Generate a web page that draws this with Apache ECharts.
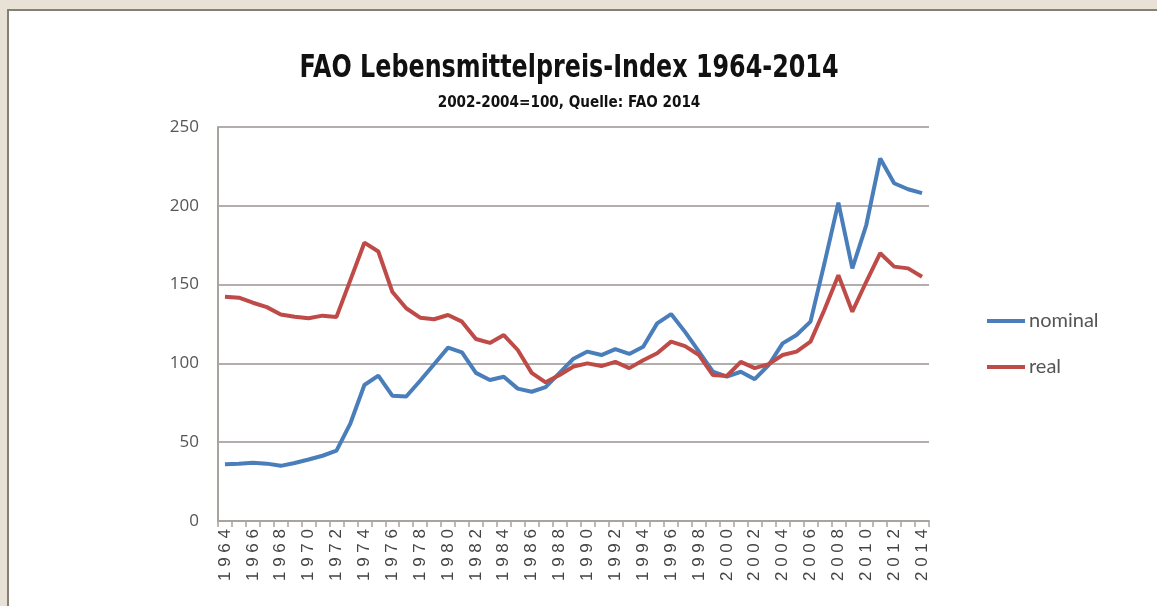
<!DOCTYPE html>
<html>
<head>
<meta charset="utf-8">
<script src="https://cdn.jsdelivr.net/npm/echarts@6/dist/echarts.min.js"></script>
<style>
  html, body { margin: 0; padding: 0; }
  body { width: 1157px; height: 606px; background: #e8e2d6; overflow: hidden; }
  .panel {
    position: absolute; left: 7px; top: 9px; width: 1150px; height: 597px;
    background: #fff; border-left: 2px solid #857f76; border-top: 2px solid #857f76;
  }
  #chart { position: absolute; left: -9px; top: -11px; width: 1157px; height: 606px; }
</style>
</head>
<body>
<div class="panel"><div id="chart"></div></div>
<script>
// years on the x axis
const years = [];
for (let y = 1964; y <= 2014; y++) years.push(String(y));

// FAO food price index, nominal (2002-2004 = 100)
const nominal = [
  36, 36.4, 37, 36.4, 35, 36.8, 39, 41.4, 44.6, 62,
  86.3, 92.2, 79.5, 79, 89, 99.5, 110, 107, 94, 89.5,
  91.5, 84, 82, 85, 94, 103, 107.5, 105.3, 109, 106,
  110.6, 125.4, 131.3, 120, 107.5, 94.7, 91.6, 94.7, 90, 99,
  112.7, 118, 126.5, 163.5, 202, 160.3, 187.8, 230, 214.3, 210.5,
  208
];

// FAO food price index, real (deflated)
const real = [
  142.3, 141.7, 138.5, 135.7, 131, 129.6, 128.7, 130.3, 129.5, 153,
  176.6, 171, 145.5, 135, 129, 128, 130.7, 126.5, 115.5, 113,
  118, 108.5, 94, 88, 92.6, 98, 100, 98.3, 101, 97,
  102, 106.4, 113.8, 111, 105.3, 92.6, 92, 101, 97, 99.5,
  105.3, 107.5, 113.8, 134, 156, 132.8, 151.8, 169.9, 161.4, 160.3,
  155
];

const yTicks = [0, 50, 100, 150, 200, 250];

const titleText = "FAO Lebensmittelpreis-Index 1964-2014";
const subText = "2002-2004=100, Quelle: FAO 2014";

const chart = echarts.init(document.getElementById("chart"), null, { renderer: "canvas" });

const option = {
  backgroundColor: "transparent",
  animation: false,
  // condensed headline look: bold text squeezed horizontally
  graphic: [
    {
      type: "text",
      x: 569,
      y: 69,
      scaleX: 0.745,
      style: {
        text: titleText,
        align: "center",
        verticalAlign: "middle",
        fontFamily: "DejaVu Sans",
        fontWeight: "bold",
        fontSize: 32,
        fill: "#111",
      },
    },
    {
      type: "text",
      x: 569,
      y: 103,
      scaleX: 0.85,
      style: {
        text: subText,
        align: "center",
        verticalAlign: "middle",
        fontFamily: "DejaVu Sans",
        fontWeight: "bold",
        fontSize: 16,
        fill: "#111",
      },
    },
  ],
  legend: {
    orient: "vertical",
    left: 987,
    top: 311,
    padding: 0,
    itemWidth: 38,
    itemHeight: 4,
    itemGap: 26,
    icon: "rect",
    textStyle: { fontFamily: "Lato", fontSize: 20, color: "#555", padding: [0, 0, 0, -1] },
    data: ["nominal", "real"],
  },
  grid: { left: 218, right: 228, top: 127, bottom: 85, containLabel: false },
  xAxis: {
    type: "category",
    data: years,
    boundaryGap: true,
    axisLine: { lineStyle: { color: "#a9a3a0", width: 2 } },
    axisTick: { show: true, interval: 0, length: 6, lineStyle: { color: "#a9a3a0", width: 1.5 } },
    axisLabel: {
      interval: 1,
      rotate: 90,
      margin: 8,
      fontFamily: "Liberation Sans",
      fontSize: 17,
      color: "#444",
      // the original spaces its digits widely
      formatter: (v) => v.split("").join(" "),
    },
    splitLine: { show: false },
  },
  yAxis: {
    type: "value",
    min: yTicks[0],
    max: yTicks[yTicks.length - 1],
    interval: 50,
    axisLine: { show: true, lineStyle: { color: "#a9a3a0", width: 2 } },
    axisTick: { show: false },
    axisLabel: {
      margin: 19,
      fontFamily: "Open Sans",
      fontSize: 17,
      color: "#555",
    },
    splitLine: { lineStyle: { color: "#b3adab", width: 2 } },
  },
  series: [
    {
      name: "nominal",
      type: "line",
      data: nominal,
      symbol: "none",
      color: "#4a7ebb",
      lineStyle: { width: 4, color: "#4a7ebb" },
    },
    {
      name: "real",
      type: "line",
      data: real,
      symbol: "none",
      color: "#be4b48",
      lineStyle: { width: 4, color: "#be4b48" },
    },
  ],
};

chart.setOption(option);
</script>
</body>
</html>
